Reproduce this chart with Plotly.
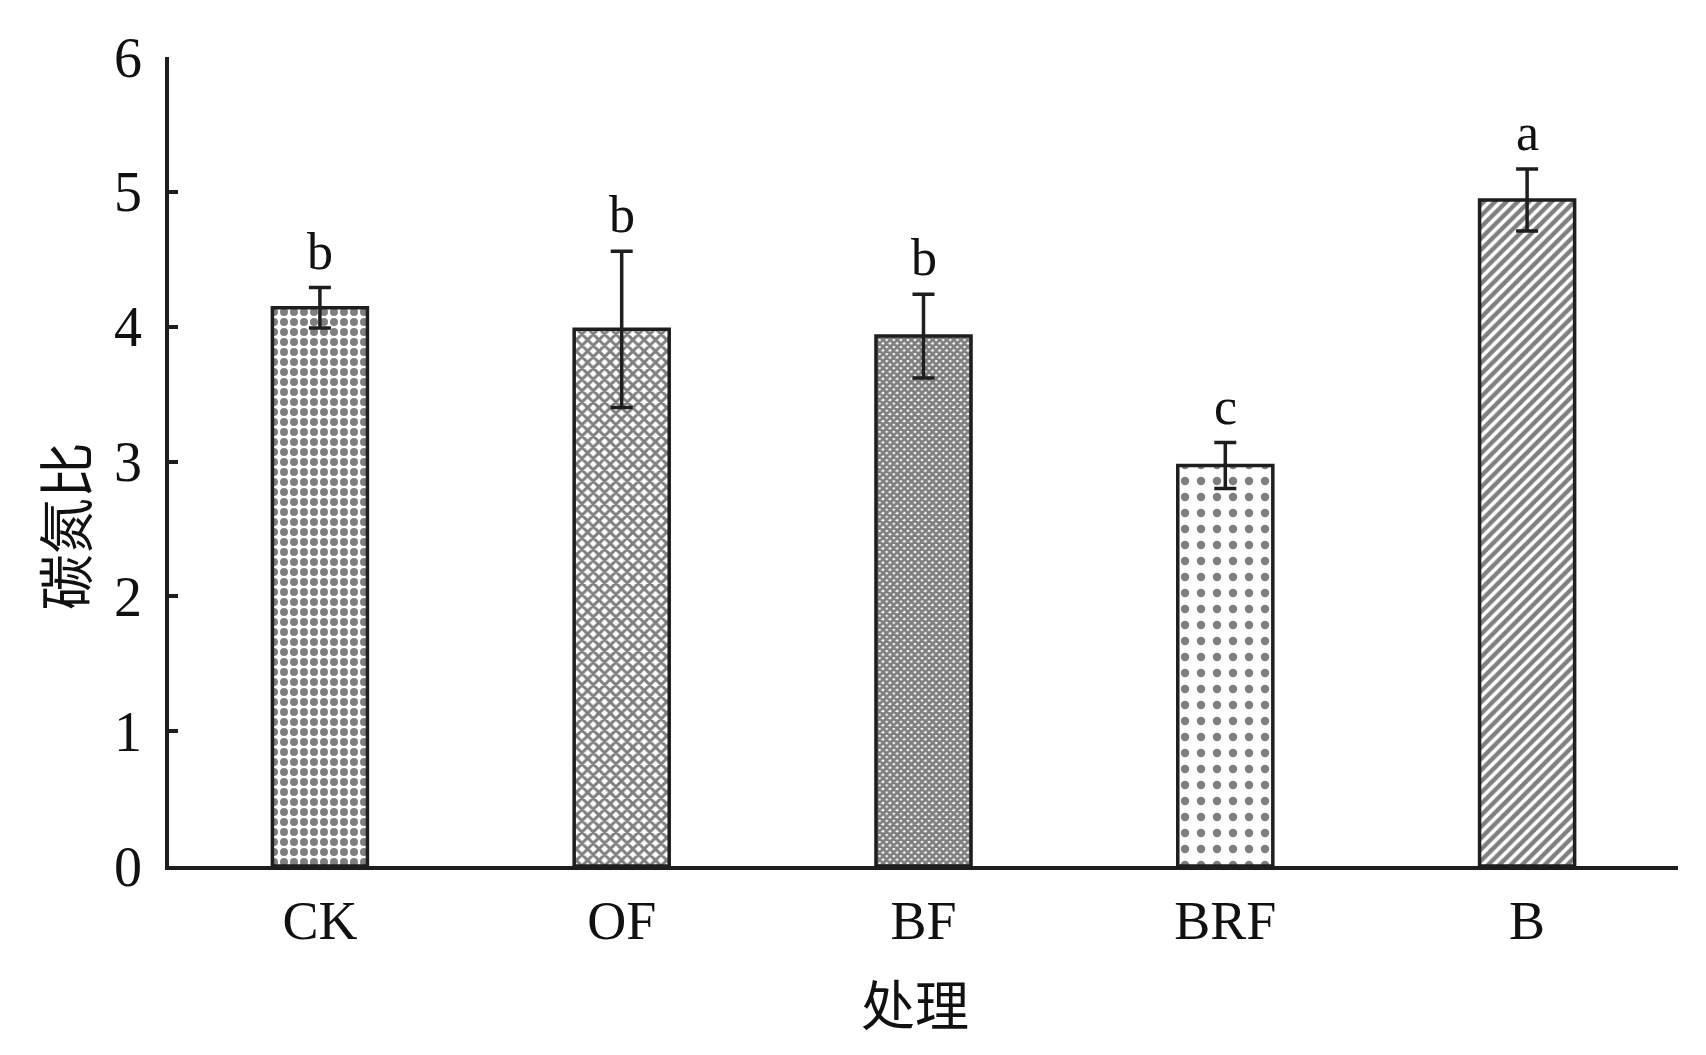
import plotly.graph_objects as go

categories = ["CK", "OF", "BF", "BRF", "B"]
means = [4.14, 3.98, 3.93, 2.97, 4.94]
errors = [0.15, 0.58, 0.31, 0.17, 0.23]
letters = ["b", "b", "b", "c", "a"]
y_ticks = [0, 1, 2, 3, 4, 5, 6]

# pattern per bar (shape, size, solidity)
patterns = [
    (".", 10, 0.5),
    ("x", 8, 0.6),
    ("x", 5, 0.8),
    (".", 16, 0.22),
    ("/", 8, 0.55),
]

serif = "Liberation Serif, Noto Sans CJK SC"
ink = "#1e1e1e"

fig = go.Figure()
fig.add_trace(
    go.Bar(
        x=categories,
        y=means,
        width=0.315,
        marker=dict(
            color="white",
            line=dict(color=ink, width=3.5),
            pattern=dict(
                shape=[p[0] for p in patterns],
                size=[p[1] for p in patterns],
                solidity=[p[2] for p in patterns],
                fgcolor="black",
                bgcolor="white",
            ),
        ),
        error_y=dict(
            type="data",
            array=errors,
            color=ink,
            thickness=3.5,
            width=11,
        ),
        showlegend=False,
    )
)

for cat, m, e, lab in zip(categories, means, errors, letters):
    fig.add_annotation(
        x=cat,
        y=m + e,
        text=lab,
        showarrow=False,
        yanchor="bottom",
        yshift=6,
        font=dict(family=serif, size=52, color="#111"),
    )

# axis titles placed as annotations
fig.add_annotation(
    x=0, y=0.42, xref="paper", yref="paper",
    xanchor="center", yanchor="middle",
    xshift=-101, text="碳氮比", textangle=-90, showarrow=False,
    font=dict(family=serif, size=56, color="#111"),
)
fig.add_annotation(
    x=0.4946, y=-0.176, xref="paper", yref="paper",
    xanchor="center", yanchor="middle",
    text="处理", showarrow=False,
    font=dict(family=serif, size=54, color="#111"),
)

fig.update_layout(
    width=1706,
    height=1055,
    margin=dict(l=161, r=36, t=49, b=197),
    paper_bgcolor="white",
    plot_bgcolor="white",
    font=dict(family=serif, color="#111"),
)
fig.update_xaxes(
    range=[-0.5, 4.5],
    showline=True,
    linecolor=ink,
    linewidth=3.5,
    ticks="",
    ticklabelstandoff=4,
    tickfont=dict(family=serif, size=54),
    showgrid=False,
)
fig.update_yaxes(
    range=[0, 6],
    tickvals=y_ticks,
    showline=True,
    linecolor=ink,
    linewidth=3.5,
    ticks="inside",
    ticklen=9,
    tickwidth=3.5,
    tickcolor=ink,
    ticklabelstandoff=12,
    tickfont=dict(family=serif, size=56),
    showgrid=False,
    zeroline=False,
)

fig.write_html("out.html")
